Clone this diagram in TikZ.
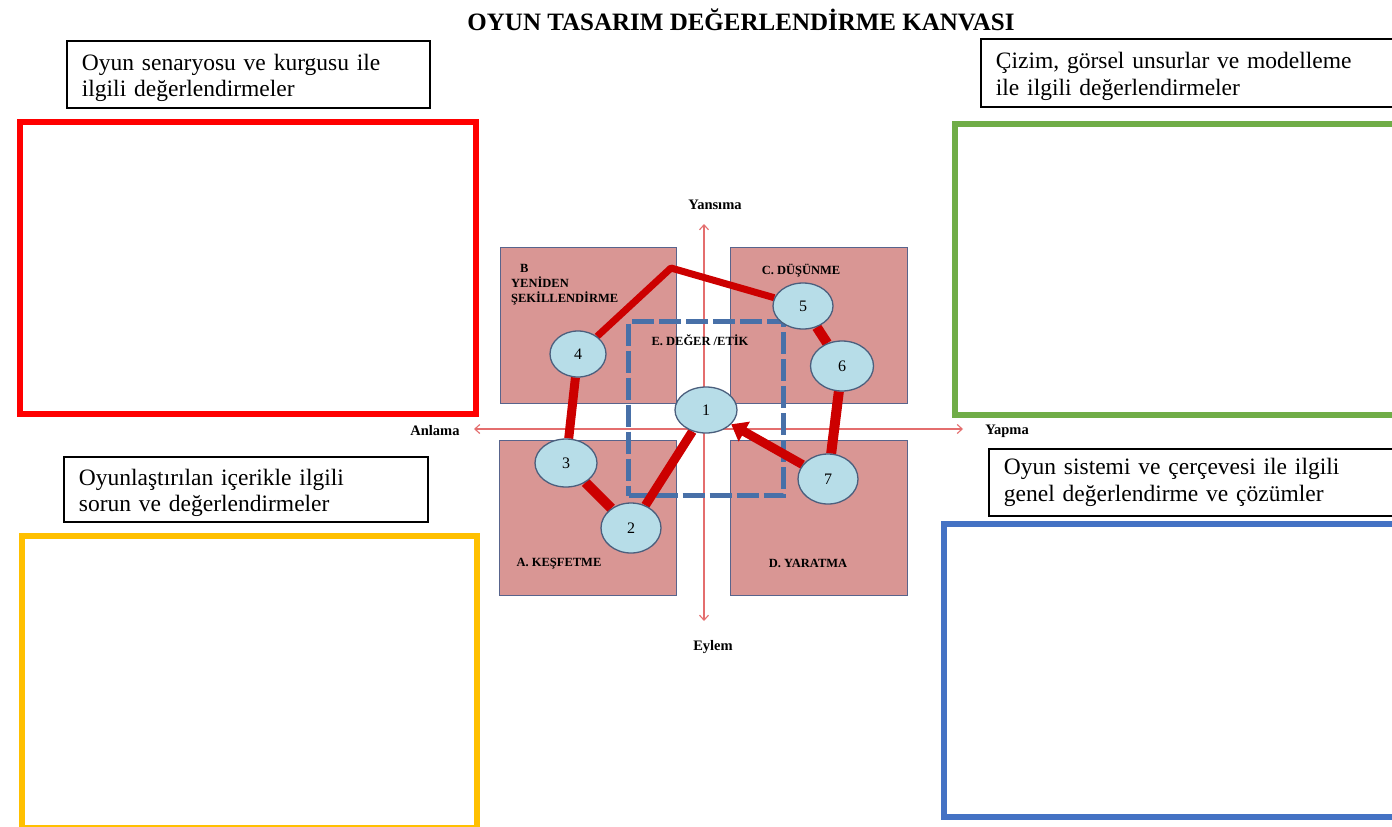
\documentclass[tikz,border=0pt]{standalone}
\usepackage{fontspec}
\setmainfont{Liberation Serif}
\usetikzlibrary{shapes.geometric,arrows.meta}
\pgfdeclarelayer{bg}
\pgfdeclarelayer{mid}
\pgfsetlayers{bg,mid,main}

\definecolor{frameRed}{RGB}{255,0,0}
\definecolor{frameGreen}{RGB}{112,173,71}
\definecolor{frameYellow}{RGB}{255,192,0}
\definecolor{frameBlue}{RGB}{68,114,196}
\definecolor{quadFill}{RGB}{217,150,148}
\definecolor{quadEdge}{RGB}{88,100,140}
\definecolor{bubFill}{RGB}{183,221,232}
\definecolor{bubEdge}{RGB}{75,95,125}
\definecolor{linkRed}{RGB}{204,0,0}
\definecolor{axisRed}{RGB}{228,110,110}
\definecolor{ethicBlue}{RGB}{72,112,168}

\newcommand{\toppad}{\rule{0pt}{23pt}}

\tikzset{
  headbox/.style={draw=black, line width=1.8pt, fill=white, align=left,
    anchor=north west, inner xsep=15pt, inner ysep=0pt,
    font=\fontsize{23.5}{26.5}\selectfont},
  framebox/.style={line width=6pt, anchor=north west, inner sep=0pt},
  quadbox/.style={draw=quadEdge, fill=quadFill, line width=1.3pt,
    anchor=north west, inner sep=0pt},
  quadlabel/.style={font=\bfseries\fontsize{12.5}{15}\selectfont, inner sep=0pt},
  axislabel/.style={font=\bfseries\fontsize{14.5}{17}\selectfont, inner sep=0pt},
  axisline/.style={draw=axisRed, line width=1.1pt,
    {Straight Barb[length=5pt,width=9pt]}-{Straight Barb[length=5pt,width=9pt]}},
  ethicbox/.style={draw=ethicBlue, line width=5pt, dash pattern=on 22pt off 5pt,
    anchor=north west, inner sep=0pt},
  bub/.style={ellipse, draw=bubEdge, fill=bubFill, line width=1.3pt,
    minimum width=62pt, minimum height=46pt, inner sep=0pt,
    font=\fontsize{16}{18}\selectfont},
  link/.style={draw=linkRed, line width=9pt},
}

\begin{document}
\begin{tikzpicture}[x=1pt, y=-1pt]
\useasboundingbox (0,0) rectangle (1392,827);

% central model: page, quadrants, axes and the ethics frame
\begin{pgfonlayer}{bg}
  \fill[white] (0,0) rectangle (1392,827);
  \node[quadbox, minimum width=176pt, minimum height=156pt] (qB) at (500,247) {};
  \node[quadbox, minimum width=177pt, minimum height=156pt] (qC) at (730,247) {};
  \node[quadbox, minimum width=177pt, minimum height=155pt] (qA) at (499,440) {};
  \node[quadbox, minimum width=177pt, minimum height=155pt] (qD) at (730,440) {};

  \coordinate (axT) at (704,224);
  \coordinate (axB) at (704,621);
  \coordinate (axL) at (474,429);
  \coordinate (axR) at (963,429);
  \draw[axisline] (axT) -- (axB);
  \draw[axisline] (axL) -- (axR);

  \node[ethicbox, minimum width=155pt, minimum height=174pt] (eBox) at (626,319) {};
\end{pgfonlayer}

\clip (0,0) rectangle (1392,827);

% heading
\node[font=\bfseries\fontsize{25}{29}\selectfont] (title) at (741,20)
  {OYUN TASARIM DEĞERLENDİRME KANVASI};

% four evaluation frames with their captions
\node[framebox, draw=frameRed, minimum width=456pt, minimum height=292pt] (fTL) at (17,119) {};
\node[framebox, draw=frameGreen, minimum width=460pt, minimum height=291pt] (fTR) at (952,121) {};
\node[framebox, draw=frameYellow, minimum width=455pt, minimum height=292pt] (fBL) at (19,533) {};
\node[framebox, draw=frameBlue, minimum width=470pt, minimum height=293pt] (fBR) at (941,521) {};

\node[headbox, text width=333pt, minimum height=67pt] (hTL) at (66,40)
  {\toppad Oyun senaryosu ve kurgusu ile\\ilgili değerlendirmeler};
\node[headbox, text width=400pt, minimum height=68pt] (hTR) at (980,38)
  {\toppad Çizim, görsel unsurlar ve modelleme\\ile ilgili değerlendirmeler};
\node[headbox, text width=334pt, minimum height=65pt] (hBL) at (63,456)
  {\toppad Oyunlaştırılan içerikle ilgili\\sorun ve değerlendirmeler};
\node[headbox, text width=400pt, minimum height=67pt] (hBR) at (988,448)
  {Oyun sistemi ve çerçevesi ile ilgili\\genel değerlendirme ve çözümler};

\node[axislabel] (lYan) at (715,205) {Yansıma};
\node[axislabel] (lEyl) at (713,647) {Eylem};
\node[axislabel] (lAnl) at (435,431) {Anlama};
\node[axislabel] (lYap) at (1007,431) {Yapma};

\node[quadlabel, align=left, anchor=north west] (tB) at (511,264)
  {\hspace*{9pt}B\\YENİDEN\\ŞEKİLLENDİRME};
\node[quadlabel] (tC) at (801,271) {C. DÜŞÜNME};
\node[quadlabel] (tA) at (559,564) {A. KEŞFETME};
\node[quadlabel] (tD) at (808,563) {D. YARATMA};
\node[quadlabel] (tE) at (700,340) {E. DEĞER /ETİK};

% stages of the design cycle
\node[bub] (n1) at (706,410) {1};
\node[bub, minimum width=60pt, minimum height=50pt] (n2) at (631,528) {2};
\node[bub, minimum width=62pt, minimum height=48pt] (n3) at (566,463) {3};
\node[bub, minimum width=56pt, minimum height=46pt] (n4) at (578,354) {4};
\node[bub, minimum width=60pt, minimum height=46pt] (n5) at (803,306) {5};
\node[bub, minimum width=63pt, minimum height=50pt] (n6) at (842,366) {6};
\node[bub, minimum width=60pt, minimum height=50pt] (n7) at (828,479) {7};
\coordinate (peak) at (671,268);

\begin{pgfonlayer}{mid}
  \draw[link] (n1) -- (n2);
  \draw[link, line width=10pt] (n2) -- (n3);
  \draw[link] (n3) -- (n4);
  \draw[link, line width=7pt, line join=round] (n4) -- (peak) -- (n5);
  \draw[link, line width=10pt] (n5) -- (n6);
  \draw[link, line width=10pt] (n6) -- (n7);
  \draw[link, -{Triangle[length=15pt,width=22pt]}] (n7) -- (n1);
\end{pgfonlayer}
\end{tikzpicture}
\end{document}
